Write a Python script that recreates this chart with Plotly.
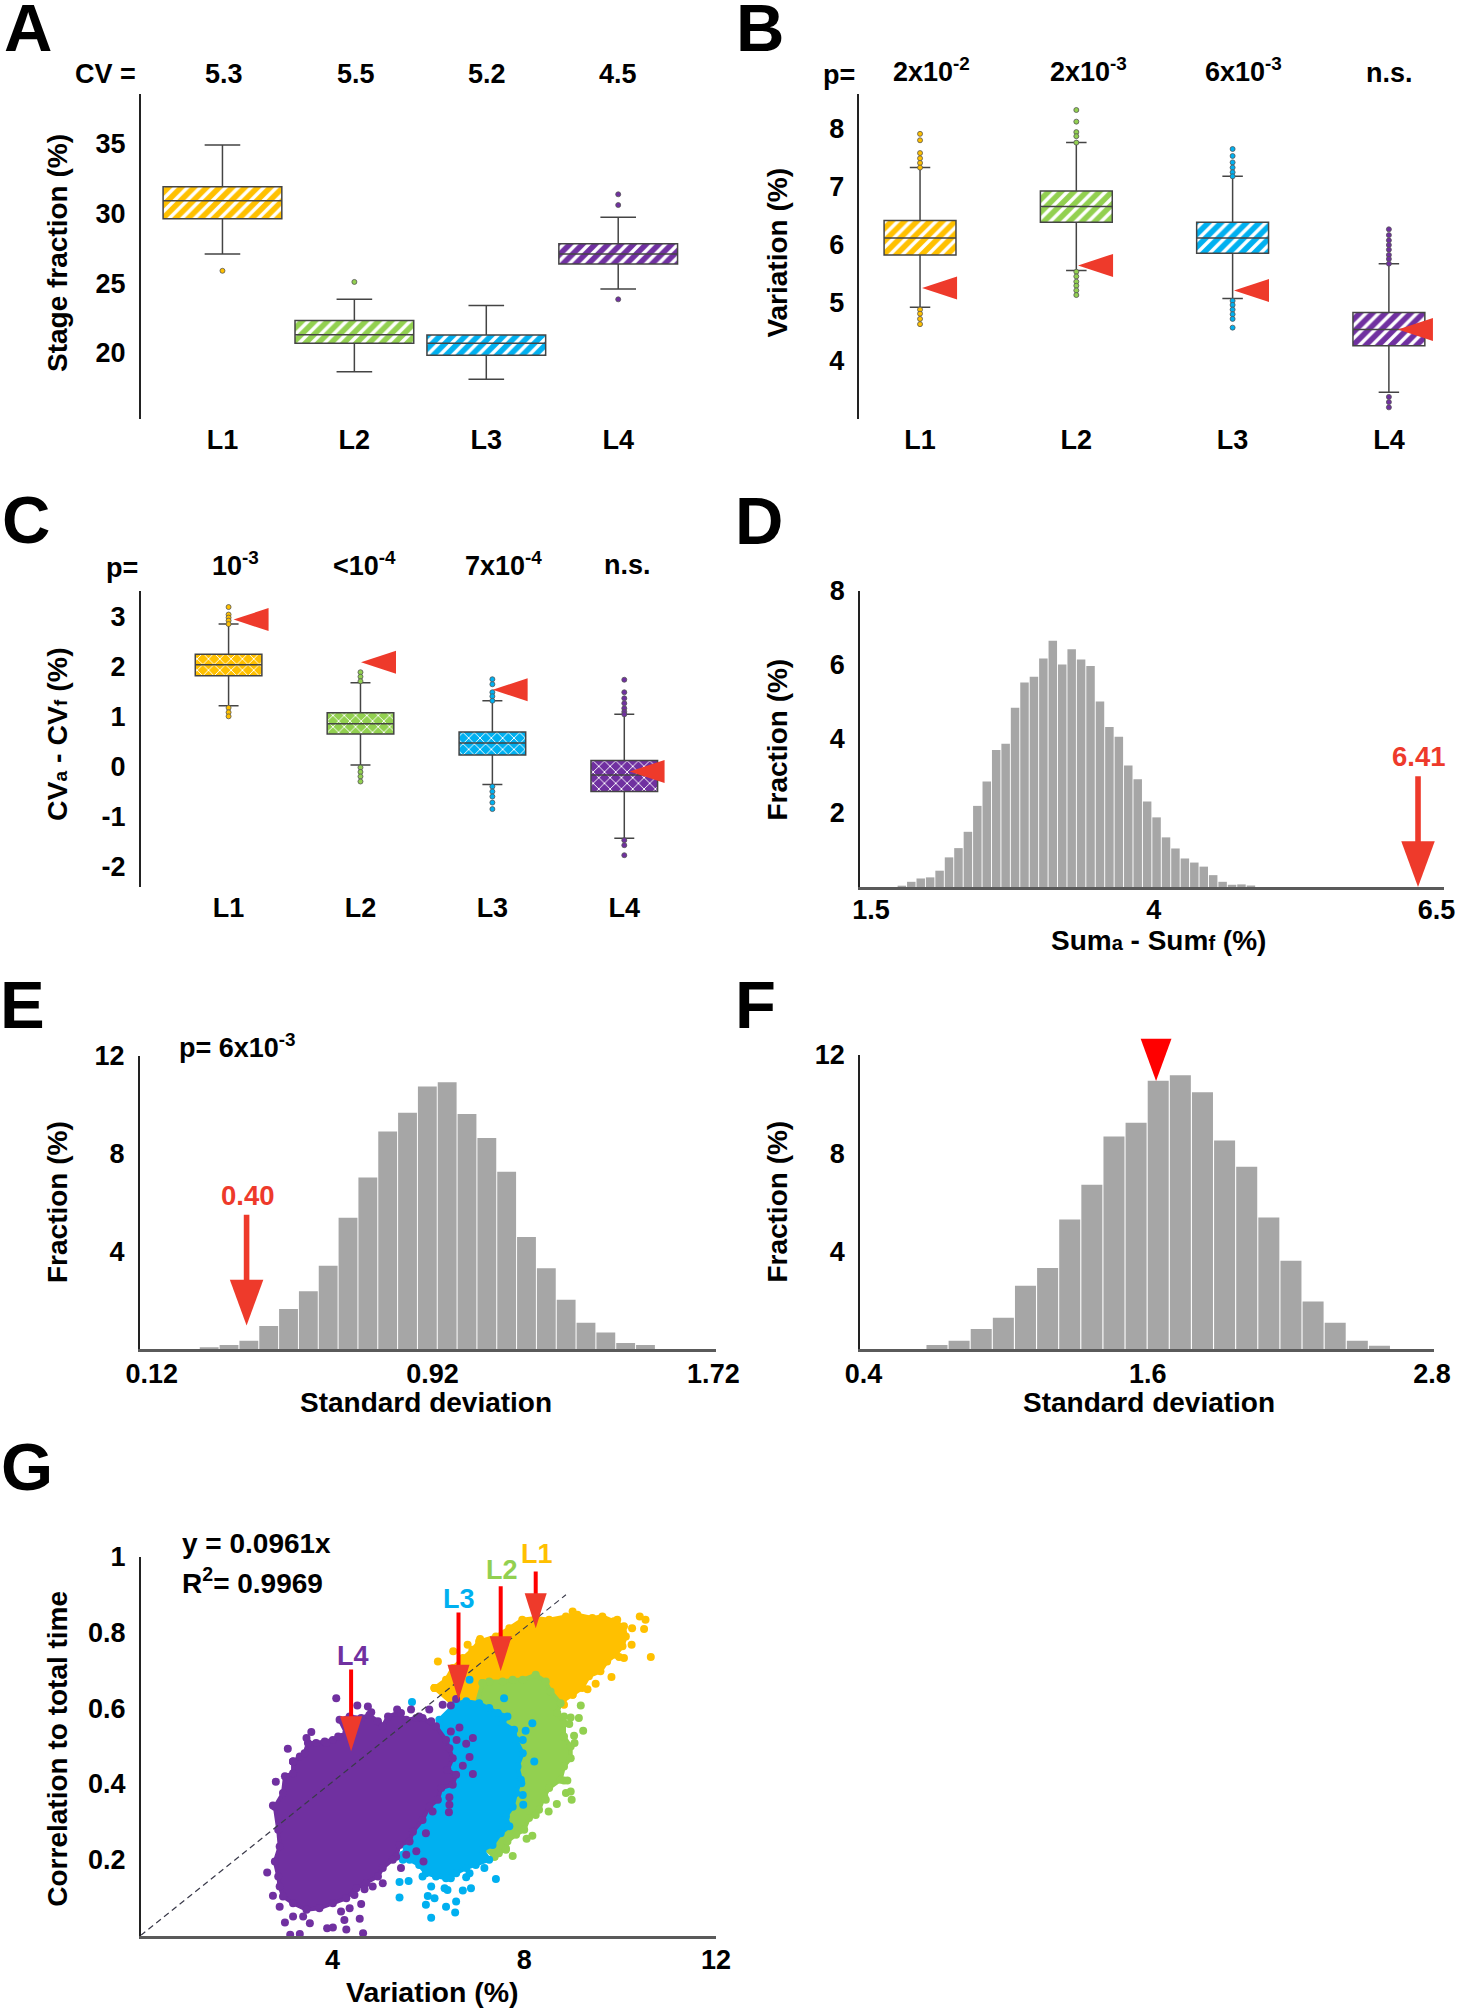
import plotly.graph_objects as go

W, H = 1463, 2010
FONT = "Liberation Sans"
YELLOW, GREEN, BLUE, PURPLE = "#ffc000", "#92d050", "#00b0f0", "#7030a0"
RED, PURE = "#ee3a2b", "#ff0000"
BOX_COLORS = [YELLOW, GREEN, BLUE, PURPLE]
LINES = ["L1", "L2", "L3", "L4"]
POS = [1, 2, 3, 4]

# Panel A
A_hi = [34.93, 23.85, 23.4, 29.74]
A_q3 = [31.94, 22.34, 21.29, 27.85]
A_med = [30.93, 21.3, 20.69, 27.1]
A_q1 = [29.64, 20.7, 19.83, 26.39]
A_lo = [27.1, 18.66, 18.11, 24.6]
A_out = [[25.9], [25.1], [], [31.39, 30.62, 23.85]]
A_head = ["5.3", "5.5", "5.2", "4.5"]

# Panel B
B_hi = [7.32, 7.75, 7.17, 5.67]
B_q3 = [6.41, 6.92, 6.38, 4.83]
B_med = [6.11, 6.65, 6.11, 4.54]
B_q1 = [5.82, 6.38, 5.85, 4.26]
B_lo = [4.92, 5.55, 5.07, 3.46]
B_out = [
    [7.9, 7.79, 7.57, 7.48, 7.4, 7.32, 4.88, 4.81, 4.72, 4.63],
    [8.31, 8.11, 7.93, 7.86, 7.75, 5.53, 5.45, 5.36, 5.29, 5.21, 5.13],
    [7.64, 7.52, 7.41, 7.32, 7.24, 7.17, 5.03, 4.96, 4.88, 4.8, 4.72, 4.57],
    [6.26, 6.16, 6.07, 5.99, 5.91, 5.82, 5.75, 5.67, 3.38, 3.29, 3.2],
]
B_head = ["2x10<sup>-2</sup>", "2x10<sup>-3</sup>", "6x10<sup>-3</sup>", "n.s."]
B_mark_x = [1.013, 2.011, 3.009, 4.058]
B_mark_y = [5.25, 5.64, 5.21, 4.54]

# Panel C
C_hi = [2.84, 1.67, 1.31, 1.04]
C_q3 = [2.24, 1.07, 0.69, 0.12]
C_med = [2.03, 0.85, 0.47, -0.17]
C_q1 = [1.81, 0.65, 0.23, -0.5]
C_lo = [1.21, 0.03, -0.36, -1.43]
C_out = [
    [3.18, 3.03, 2.97, 2.91, 2.84, 1.17, 1.08, 1.0],
    [1.88, 1.79, 1.7, -0.02, -0.11, -0.2, -0.3],
    [1.74, 1.64, 1.48, 1.4, 1.31, -0.4, -0.5, -0.6, -0.72, -0.85],
    [1.73, 1.48, 1.36, 1.26, 1.16, 1.09, 1.04, -1.47, -1.57, -1.77],
]
C_head = ["10<sup>-3</sup>", "&lt;10<sup>-4</sup>", "7x10<sup>-4</sup>", "n.s."]
C_mark_x = [1.038, 2.004, 3.002, 4.04]
C_mark_y = [2.93, 2.08, 1.53, -0.1]

# Panels D, E, F (histograms)
D_frac = [0.03, 0.14, 0.23, 0.26, 0.44, 0.80, 1.05, 1.49, 2.19, 2.85, 3.70, 3.87, 4.84, 5.52, 5.68, 6.17, 6.65,
          6.01, 6.42, 6.14, 5.97, 5.01, 4.32, 4.06, 3.28, 2.91, 2.31, 1.88, 1.34, 1.04, 0.77, 0.66, 0.55, 0.32,
          0.14, 0.06, 0.07, 0.04]
D_start, D_step = 1.773, 0.0834
D_obs_x = 6.336
E_frac = [0.08, 0.18, 0.35, 0.95, 1.65, 2.37, 3.41, 5.38, 7.02, 8.9, 9.67, 10.74, 10.91, 9.62, 8.64, 7.26, 4.59,
          3.31, 2.03, 1.09, 0.69, 0.26, 0.18]
E_start, E_step = 0.2835, 0.0565
E_obs_x, E_obs_y = 0.39, 0.97
F_frac = [0.18, 0.35, 0.83, 1.29, 2.59, 3.31, 5.29, 6.71, 8.68, 9.24, 10.95, 11.17, 10.48, 8.51, 7.44, 5.37, 3.61,
          1.95, 1.08, 0.35, 0.14]
F_start, F_step = 0.71, 0.0934
F_obs_x, F_obs_y = 1.635, 10.94

# Panel G: outlines of the solid clouds, and the separate points around them
L1_edge_x = [6.13, 6.37, 6.51, 6.72, 6.92, 7.06, 7.41, 7.69, 7.96, 8.24, 8.52, 8.87, 9.11, 9.42, 9.63, 9.87, 10.08, 10.12, 10.05, 9.91, 9.73, 9.59, 9.35, 9.21, 9.01, 8.80, 8.52, 7.13, 6.58]
L1_edge_y = [.653, .675, .706, .732, .754, .776, .789, .811, .833, .838, .833, .842, .846, .838, .842, .829, .816, .789, .763, .741, .723, .697, .684, .653, .635, .618, .631, .631, .604]
L1_pts_x = [6.20, 6.52, 6.82, 7.08, 9.01, 10.41, 10.53, 10.50, 10.25, 10.64, 9.82, 10.24, 9.32, 9.49, 9.01, 8.83, 6.51, 6.13, 9.98, 10.08, 9.94]
L1_pts_y = [.723, .750, .767, .782, .855, .842, .833, .809, .811, .735, .682, .767, .650, .664, .635, .609, .587, .653, .735, .732, .833]
L2_edge_x = [7.13, 7.27, 7.55, 7.76, 7.97, 8.24, 8.45, 8.55, 8.76, 8.69, 8.83, 8.83, 8.97, 8.97, 8.83, 8.76, 8.52, 8.42, 8.31, 8.10, 8.00, 7.83, 7.65, 7.62, 7.38, 7.13, 7.13, 6.99]
L2_edge_y = [.666, .670, .670, .675, .675, .688, .670, .644, .613, .587, .560, .525, .499, .468, .446, .411, .389, .367, .332, .310, .279, .266, .248, .230, .208, .235, .428, .604]
L2_pts_x = [9.18, 8.83, 8.97, 9.14, 8.94, 9.23, 9.04, 9.05, 8.83, 8.90, 8.87, 8.97, 8.99, 8.45, 8.68, 8.51, 8.17, 8.05, 7.76, 7.62, 7.47, 7.38, 8.24]
L2_pts_y = [.607, .578, .575, .574, .558, .540, .527, .508, .409, .409, .376, .380, .358, .358, .347, .327, .263, .255, .210, .226, .217, .208, .318]
L3_edge_x = [6.58, 6.79, 7.06, 7.27, 7.45, 7.65, 7.55, 7.79, 7.83, 7.97, 7.86, 7.93, 7.83, 7.76, 7.62, 7.69, 7.51, 7.34, 7.13, 7.27, 6.99, 6.79, 6.58, 6.37, 6.16, 5.95, 5.81, 5.61, 5.47, 5.54, 5.75, 6.23]
L3_edge_y = [.613, .618, .613, .600, .587, .578, .560, .543, .516, .481, .446, .411, .376, .340, .314, .288, .270, .239, .226, .200, .186, .178, .164, .151, .156, .164, .186, .200, .213, .235, .428, .569]
L3_pts_x = [6.86, 5.66, 7.58, 8.17, 8.21, 8.03, 7.97, 7.94, 7.97, 7.98, 7.41, 7.17, 6.86, 6.79, 6.47, 6.34, 6.40, 6.72, 6.89, 5.99, 6.13, 5.95, 6.37, 6.58, 6.56, 6.06, 5.40, 5.40, 5.59, 5.88, 6.06, 5.47]
L3_pts_y = [.675, .616, .626, .560, .459, .540, .516, .402, .371, .345, .149, .178, .164, .154, .151, .125, .120, .119, .125, .104, .098, .081, .076, .090, .061, .047, .100, .141, .144, .156, .129, .200]
L4_edge_x = [3.18, 3.32, 3.42, 3.49, 3.66, 3.84, 4.01, 4.12, 4.29, 4.15, 4.36, 4.60, 4.77, 4.95, 5.05, 5.16, 5.36, 5.54, 5.75, 5.88, 6.16, 6.37, 6.44, 6.51, 6.40, 6.58, 6.51, 6.27, 6.20, 6.02, 5.88, 5.68, 5.61, 5.40, 5.33, 5.05, 4.95, 4.70, 4.50, 4.29, 4.01, 3.73, 3.46, 3.18, 2.97, 2.90, 2.87, 2.80, 2.90, 2.87, 2.80, 2.97, 3.01, 3.18]
L4_edge_y = [.459, .472, .481, .508, .508, .512, .516, .525, .534, .569, .578, .574, .582, .565, .552, .578, .587, .569, .574, .574, .552, .516, .494, .468, .437, .424, .398, .389, .358, .340, .305, .274, .248, .239, .208, .178, .156, .138, .125, .098, .085, .072, .068, .085, .103, .129, .156, .195, .235, .279, .340, .376, .420, .428]
L4_pts_x = [4.08, 4.52, 4.74, 4.81, 5.35, 5.43, 5.64, 5.81, 6.02, 6.30, 6.47, 6.58, 6.06, 6.47, 6.65, 6.59, 6.79, 6.93, 6.86, 6.72, 6.93, 6.44, 6.44, 6.43, 6.09, 5.95, 5.75, 5.90, 5.43, 5.54, 5.26, 5.05, 4.84, 4.67, 4.46, 4.60, 4.36, 4.18, 4.25, 4.57, 4.29, 4.64, 4.01, 3.89, 3.32, 3.12, 3.01, 3.18, 3.39, 3.53, 2.90, 2.76, 2.64, 2.82, 3.07, 3.56, 3.46, 2.76, 3.18, 3.87]
L4_pts_y = [.626, .607, .604, .589, .596, .587, .596, .578, .596, .609, .607, .624, .565, .538, .549, .516, .506, .521, .471, .448, .426, .365, .345, .325, .327, .270, .222, .195, .178, .213, .200, .138, .129, .122, .107, .083, .072, .063, .041, .044, .016, .006, .021, .019, .004, .002, .034, .050, .050, .032, .076, .105, .166, .406, .493, .537, .521, .343, .459, .508]
FIT_x = [0, 8.87]
FIT_y = [0, 0.899]
G_tip_x = [8.24, 7.51, 6.63, 4.39]
G_tip_y = [.811, .697, .622, .486]
G_arrow_len = [56.7, 85, 87.3, 81.7]


def px(x, y):
    return x / W, 1 - y / H


fig = go.Figure()
layout = dict(
    width=W, height=H, margin=dict(l=0, r=0, t=0, b=0), paper_bgcolor="white", plot_bgcolor="white",
    showlegend=False, font=dict(family=FONT, color="black"), barmode="overlay", boxmode="overlay",
)
annotations, shapes = [], []


def panel(n, box, xr, yr, xt, xl, yt, yl, xline, xstand=0, ylen=8):
    left, right, top, bottom = box
    tick = dict(family=FONT, size=27, weight=700, color="black")
    sx = "" if n == 1 else str(n)
    layout["xaxis" + sx] = dict(
        domain=[left / W, right / W], range=xr, anchor="y" + sx, tickmode="array", tickvals=xt, ticktext=xl,
        tickfont=tick, showgrid=False, zeroline=False, showline=xline, linecolor="#5a5a5a", linewidth=2.5,
        ticks="", ticklabelstandoff=xstand, fixedrange=True, automargin=False,
    )
    layout["yaxis" + sx] = dict(
        domain=[1 - bottom / H, 1 - top / H], range=yr, anchor="x" + sx, tickmode="array", tickvals=yt, ticktext=yl,
        tickfont=tick, showgrid=False, zeroline=False, showline=True, linecolor="#222222", linewidth=1.5,
        ticks="outside", ticklen=ylen, tickcolor="rgba(0,0,0,0)", fixedrange=True, automargin=False,
    )
    return "x" + sx, "y" + sx


def text(t, x, y, size=27, color="black", angle=0, xanchor="center"):
    ax, ay = px(x, y)
    annotations.append(dict(
        text=t, x=ax, y=ay, xref="paper", yref="paper", xanchor=xanchor, yanchor="middle", showarrow=False,
        textangle=angle, font=dict(family=FONT, size=size, weight=700, color=color),
    ))


def boxes(xa, ya, q1, med, q3, lo, hi, out, width, cap, shape, size, solidity, msize):
    for p, a, b, c in zip(POS, q1, q3, BOX_COLORS):
        fig.add_trace(go.Bar(
            x=[p], y=[b - a], base=[a], width=width, xaxis=xa, yaxis=ya,
            marker=dict(color=c, line=dict(width=0),
                        pattern=dict(shape=shape, bgcolor=c, fgcolor="#ffffff", fgopacity=1, size=size, solidity=solidity)),
            hoverinfo="skip",
        ))
    fig.add_trace(go.Box(
        x=POS, q1=q1, median=med, q3=q3, lowerfence=lo, upperfence=hi, width=width, whiskerwidth=cap,
        fillcolor="rgba(0,0,0,0)", line=dict(color="#444444", width=1.5), boxpoints=False, xaxis=xa, yaxis=ya,
        hoverinfo="skip",
    ))
    for p, vals, c in zip(POS, out, BOX_COLORS):
        if vals:
            fig.add_trace(go.Scatter(
                x=[p] * len(vals), y=vals, mode="markers", xaxis=xa, yaxis=ya, hoverinfo="skip",
                marker=dict(color=c, size=msize, line=dict(color="#555555", width=0.8)),
            ))


def triangle_left(xa, ya, x, y):
    shapes.append(dict(type="path", xref=xa, yref=ya, xsizemode="pixel", ysizemode="pixel", xanchor=x, yanchor=y,
                       path="M 0 0 L 35 11.5 L 35 -11.5 Z", fillcolor=RED, line=dict(width=0), layer="above"))


def arrow(xa, ya, x, y, length, head_h, head_w, shaft_w, shaft_color):
    shapes.append(dict(type="path", xref=xa, yref=ya, xsizemode="pixel", ysizemode="pixel", xanchor=x, yanchor=y,
                       path=f"M {-shaft_w/2} {head_h-1} L {-shaft_w/2} {length} L {shaft_w/2} {length} L {shaft_w/2} {head_h-1} Z",
                       fillcolor=shaft_color, line=dict(width=0), layer="above"))
    shapes.append(dict(type="path", xref=xa, yref=ya, xsizemode="pixel", ysizemode="pixel", xanchor=x, yanchor=y,
                       path=f"M 0 0 L {-head_w/2} {head_h} L {head_w/2} {head_h} Z",
                       fillcolor=RED, line=dict(width=0), layer="above"))


def hist(xa, ya, start, step, vals, rel):
    fig.add_trace(go.Bar(x0=start, dx=step, y=vals, width=step * rel, xaxis=xa, yaxis=ya, hoverinfo="skip",
                         marker=dict(color="#a6a6a6", line=dict(width=0))))


# A
xa, ya = panel(1, (140.6, 700, 94.3, 419), [0.3795, 4.62], [15.26, 38.57], POS, LINES,
               [20, 25, 30, 35], ["20", "25", "30", "35"], False, 2)
boxes(xa, ya, A_q1, A_med, A_q3, A_lo, A_hi, A_out, 0.9, 0.3, "/", 9, 0.38, 5)
text("CV =", 105, 74)
for p, t in zip([223.5, 355.7, 486.5, 617.8], A_head):
    text(t, p, 74)
text("Stage fraction (%)", 57, 253, 28, angle=-90)
text("A", 28.4, 27.7, 67)

# B
xa, ya = panel(2, (859.4, 1445, 94.3, 419), [0.612, 4.359], [3.0, 8.58], POS, LINES,
               [4, 5, 6, 7, 8], ["4", "5", "6", "7", "8"], False, 2)
boxes(xa, ya, B_q1, B_med, B_q3, B_lo, B_hi, B_out, 0.46, 0.285, "/", 9, 0.38, 5)
for x_, y_ in zip(B_mark_x, B_mark_y):
    triangle_left(xa, ya, x_, y_)
text("p=", 839, 75)
for p, t in zip([931.6, 1088.5, 1243.5, 1389.7], B_head):
    text(t, p, 70 if "sup" in t else 72.7)
text("Variation (%)", 776.6, 253, 28, angle=-90)
text("B", 760, 27.7, 67)

# C
xa, ya = panel(3, (140.6, 700, 591, 887.3), [0.333, 4.574], [-2.41, 3.5], POS, LINES,
               [-2, -1, 0, 1, 2, 3], ["-2", "-1", "0", "1", "2", "3"], False, 2)
boxes(xa, ya, C_q1, C_med, C_q3, C_lo, C_hi, C_out, 0.505, 0.3, "x", 8, 0.22, 5)
for x_, y_ in zip(C_mark_x, C_mark_y):
    triangle_left(xa, ya, x_, y_)
text("p=", 121.5, 568)
for p, t in zip([235, 364.5, 503.7, 627.5], C_head):
    text(t, p, 564 if "sup" in t else 565)
SUB = '<span style="font-size:%dpx">%s</span>'
text("CV" + SUB % (19, "a") + " - CV" + SUB % (19, "f") + " (%)", 57, 734, 28.5, angle=-90)
text("C", 25.6, 520, 67)

# D
xa, ya = panel(4, (860, 1443.7, 590.7, 887), [1.403, 6.563], [0, 8], [1.5, 4, 6.5], ["1.5", "4", "6.5"],
               [2, 4, 6, 8], ["2", "4", "6", "8"], True, -3)
hist(xa, ya, D_start, D_step, D_frac, 0.9)
arrow(xa, ya, D_obs_x, 0, 110.7, 45.7, 33.5, 5.6, RED)
text("6.41", 1419, 756.7, 27.5, RED)
text("Fraction (%)", 776.6, 740, 28, angle=-90)
text("Sum" + SUB % (20, "a") + " - Sum" + SUB % (20, "f") + " (%)", 1158, 940, 28)
text("D", 759, 520.7, 67)

# E
xa, ya = panel(5, (139.7, 715.5, 1055.7, 1349.3), [0.0855, 1.726], [0, 12], [0.12, 0.92, 1.72], ["0.12", "0.92", "1.72"],
               [4, 8, 12], ["4", "8", "12"], True, -1)
hist(xa, ya, E_start, E_step, E_frac, 0.95)
arrow(xa, ya, E_obs_x, E_obs_y, 110.7, 45.7, 33.5, 5.6, RED)
text("0.40", 248, 1195, 27.5, RED)
text("p= 6x10<sup>-3</sup>", 237, 1046, 27)
text("Fraction (%)", 57, 1202, 28, angle=-90)
text("Standard deviation", 426, 1402.7, 28)
text("E", 22, 1004, 67)

# F
F_box = (860, 1434.4, 1055, 1349.3)
xa, ya = panel(6, F_box, [0.385, 2.81], [0, 12], [0.4, 1.6, 2.8], ["0.4", "1.6", "2.8"],
               [4, 8, 12], ["4", "8", "12"], True, -1)
hist(xa, ya, F_start, F_step, F_frac, 0.95)
dom = layout["yaxis6"]["domain"]
shapes.append(dict(type="path", xref=xa, yref="paper", xsizemode="pixel", ysizemode="pixel", xanchor=F_obs_x,
                   yanchor=dom[0] + F_obs_y / 12 * (dom[1] - dom[0]),
                   path="M 0 0 L -15.4 42.3 L 15.4 42.3 Z", fillcolor=PURE, line=dict(width=0), layer="above"))
text("Fraction (%)", 776.6, 1202, 28, angle=-90)
text("Standard deviation", 1149, 1402.7, 28)
text("F", 755.6, 1004, 67)

# G
xa, ya = panel(7, (140.6, 716, 1556.5, 1935.5), [0, 12], [0, 1], [4, 8, 12], ["4", "8", "12"],
               [0.2, 0.4, 0.6, 0.8, 1], ["0.2", "0.4", "0.6", "0.8", "1"], True, -2)
for ex, ey, sx_, sy_, c in [
    (L1_edge_x, L1_edge_y, L1_pts_x, L1_pts_y, YELLOW),
    (L2_edge_x, L2_edge_y, L2_pts_x, L2_pts_y, GREEN),
    (L3_edge_x, L3_edge_y, L3_pts_x, L3_pts_y, BLUE),
    (L4_edge_x, L4_edge_y, L4_pts_x, L4_pts_y, PURPLE),
]:
    fig.add_trace(go.Scatter(x=ex + ex[:1], y=ey + ey[:1], mode="lines+markers", fill="toself", fillcolor=c,
                             line=dict(color=c, width=4), marker=dict(color=c, size=8), xaxis=xa, yaxis=ya,
                             hoverinfo="skip", cliponaxis=False))
    fig.add_trace(go.Scatter(x=sx_, y=sy_, mode="markers", marker=dict(color=c, size=8), xaxis=xa, yaxis=ya,
                             hoverinfo="skip", cliponaxis=False))
fig.add_trace(go.Scatter(x=FIT_x, y=FIT_y, mode="lines", line=dict(color="#3a3a4a", width=1.2, dash="6px,4px"),
                         xaxis=xa, yaxis=ya, hoverinfo="skip"))
for x_, y_, l_ in zip(G_tip_x, G_tip_y, G_arrow_len):
    arrow(xa, ya, x_, y_, l_, 35, 22, 4, PURE)
text("L1", 537.3, 1554, 27, YELLOW)
text("L2", 501.7, 1570, 27, GREEN)
text("L3", 459.3, 1599.3, 27, BLUE)
text("L4", 353.3, 1655.7, 27, PURPLE)
text("y = 0.0961x", 180, 1543.6, 28, xanchor="left")
text("R<sup>2</sup>= 0.9969", 180, 1581, 28, xanchor="left")
text("Correlation to total time", 56.7, 1749, 28, angle=-90)
text("Variation (%)", 432.9, 1991.6, 28.5)
text("G", 26.7, 1466, 67)

layout["annotations"] = annotations
layout["shapes"] = shapes
fig.update_layout(**layout)
fig.write_html("out.html", post_script="document.body.style.margin='0';", config=dict(displayModeBar=False))
